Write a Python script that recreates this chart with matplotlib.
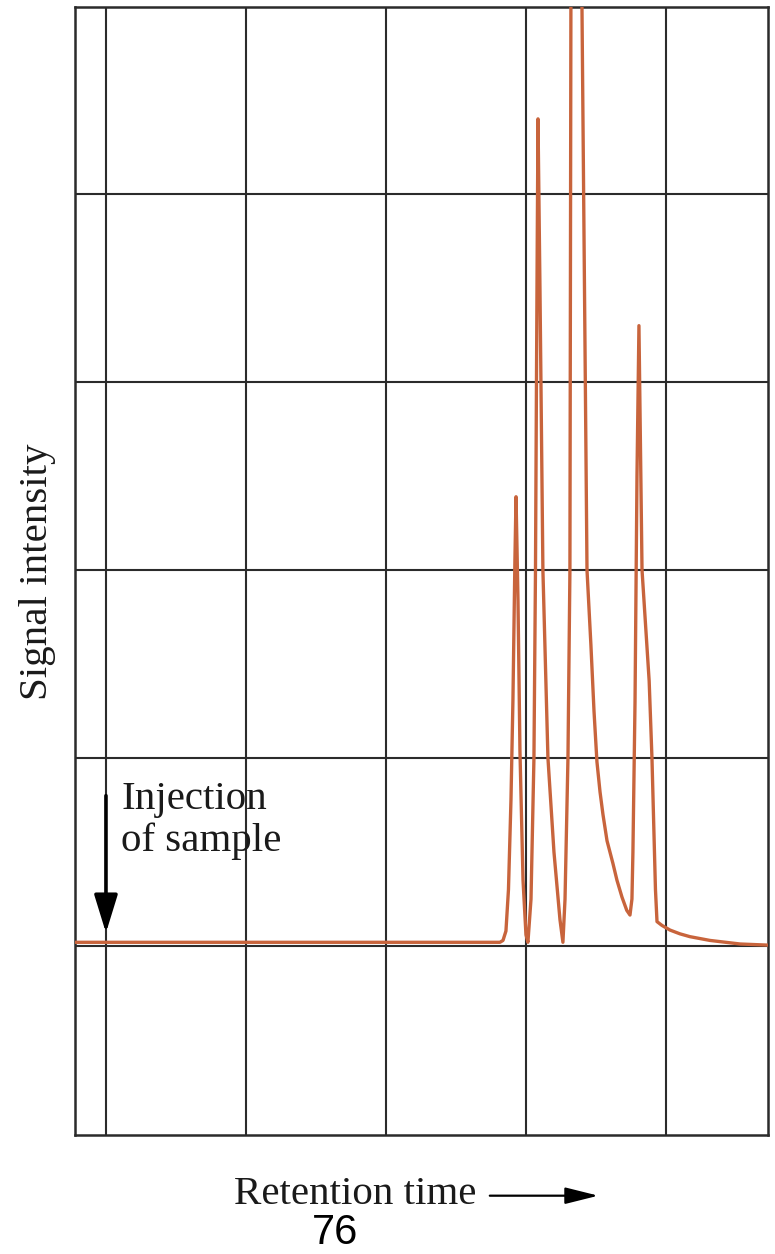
import matplotlib
matplotlib.use("Agg")
import matplotlib.pyplot as plt

# Chromatogram trace: retention time (grid units) vs. detector signal (grid units)
time = [-0.221, 2.814, 2.836, 2.857, 2.875, 2.893, 2.907, 2.921, 2.929, 2.943,
        2.957, 2.979, 3.000, 3.014, 3.036, 3.057, 3.068, 3.075, 3.081, 3.086,
        3.100, 3.121, 3.157, 3.200, 3.243, 3.264, 3.279, 3.300, 3.314, 3.321,
        3.360, 3.400, 3.436, 3.464, 3.486, 3.507, 3.529, 3.550, 3.579, 3.621,
        3.650, 3.686, 3.720, 3.743, 3.757, 3.764, 3.779, 3.793, 3.807, 3.829,
        3.880, 3.900, 3.925, 3.936, 3.971, 4.029, 4.100, 4.171, 4.314, 4.529,
        4.729]
signal = [0.020, 0.020, 0.030, 0.080, 0.300, 0.780, 1.310, 2.050, 2.390, 1.840,
          1.040, 0.350, 0.060, 0.020, 0.250, 1.000, 2.000, 3.000, 3.800, 4.400,
          3.500, 2.000, 1.000, 0.500, 0.140, 0.020, 0.250, 1.000, 2.000, 5.000,
          5.800, 5.000, 2.000, 1.600, 1.250, 0.980, 0.820, 0.700, 0.560, 0.440,
          0.350, 0.260, 0.190, 0.165, 0.250, 0.500, 1.300, 2.500, 3.300, 2.000,
          1.410, 1.000, 0.300, 0.130, 0.110, 0.085, 0.065, 0.050, 0.030, 0.011,
          0.005]

x_grid = [0, 1, 2, 3, 4]
y_grid = [0, 1, 2, 3, 4]
x_limits = (-0.221, 4.729)
y_limits = (-1.005, 4.995)

trace_color = "#c8643c"
grid_color = "#2b2b2b"
serif = ["Liberation Serif", "DejaVu Serif"]

fig = plt.figure(figsize=(7.75, 12.54), dpi=100)
ax = fig.add_axes([0.0968, 0.0949, 0.8942, 0.8995])
ax.set_xlim(*x_limits)
ax.set_ylim(*y_limits)

for gx in x_grid:
    ax.axvline(gx, color=grid_color, lw=1.5, zorder=1)
for gy in y_grid:
    ax.axhline(gy, color=grid_color, lw=1.5, zorder=1)

ax.plot(time, signal, color=trace_color, lw=2.4, zorder=3,
        solid_joinstyle="round")

for side in ax.spines.values():
    side.set_linewidth(1.8)
    side.set_color(grid_color)
ax.set_xticks([])
ax.set_yticks([])

# Injection marker
ax.annotate("", xy=(0, 0.07), xytext=(0, 0.80),
            arrowprops=dict(arrowstyle="-|>,head_width=0.4,head_length=1.3",
                            lw=2.6, color="black", mutation_scale=18,
                            shrinkA=0, shrinkB=0),
            zorder=4)
ax.text(0.11, 0.88, "Injection\nof sample", ha="left", va="top",
        fontsize=29.5, family=serif, color="#1a1a1a", linespacing=1.17)

# Axis captions
fig.text(0.049, 0.544, "Signal intensity", rotation=90, ha="center",
         va="center", fontsize=29.5, family=serif, color="#1a1a1a")
fig.text(0.458, 0.0475, "Retention time", ha="center", va="center",
         fontsize=29.5, family=serif, color="#1a1a1a")
fig.patches.append(matplotlib.patches.FancyArrowPatch(
    (0.632, 0.0465), (0.772, 0.0465), transform=fig.transFigure,
    arrowstyle="-|>,head_width=0.3,head_length=1.2", mutation_scale=17,
    lw=1.6, color="black", shrinkA=0, shrinkB=0))
fig.text(0.432, 0.017, "76", ha="center", va="center", fontsize=30,
         family=["Liberation Sans", "DejaVu Sans"], color="black")

fig.savefig("out.png", dpi=100, facecolor="white")
